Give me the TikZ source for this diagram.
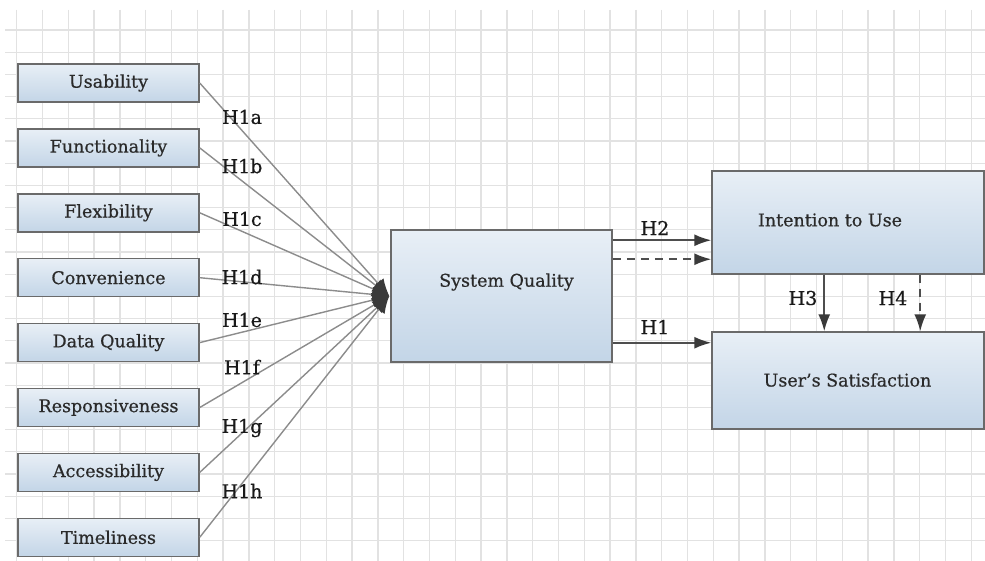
\documentclass[tikz,border=0pt]{standalone}
\usepackage{fontspec}
\setmainfont{DejaVu Serif}[FakeBold=0.6]
\usetikzlibrary{arrows.meta,calc}
\definecolor{gridc}{HTML}{E2E2E2}
\definecolor{boxborder}{HTML}{6A6A6A}
\definecolor{boxtop}{HTML}{E8EFF6}
\definecolor{boxbot}{HTML}{C3D5E7}
\definecolor{txt}{HTML}{2A2A2A}
\definecolor{lineg}{HTML}{8C8C8C}
\definecolor{arrg}{HTML}{3A3A3A}
\tikzset{
  gridline/.style={draw=gridc, line width=1.3pt},
  smallbox/.style={draw=boxborder, line width=1.5pt, top color=boxtop, bottom color=boxbot,
    minimum width=181pt, minimum height=38pt, inner sep=0pt, text=txt, font=\fontsize{17.5}{21}\selectfont},
  bigbox/.style={draw=boxborder, line width=1.5pt, top color=boxtop, bottom color=boxbot,
    inner sep=0pt},
  boxtext/.style={text=txt, font=\fontsize{17.5}{21}\selectfont, inner sep=0pt},
  hlabel/.style={text=black!90, font=\fontsize{19}{23}\selectfont, inner sep=0pt},
  feed/.style={draw=lineg, line width=1.4pt, -{Latex[length=17pt,width=15pt,color=arrg]}},
  rarr/.style={draw=arrg!90, line width=1.7pt, -{Latex[length=17pt,width=12pt,color=arrg]}},
  rdash/.style={rarr, dash pattern=on 8pt off 6pt},
}
\begin{document}
\begin{tikzpicture}[x=1pt,y=-1pt]
\useasboundingbox (0,0) rectangle (985,561);
\fill[white] (0,0) rectangle (985,561);
% grid
\foreach \k in {0,...,37} \draw[gridline] ({16.7+25.8*\k},10) -- ({16.7+25.8*\k},561);
\foreach \k in {0,...,23} \draw[gridline] (5,{30+22.2*\k}) -- (985,{30+22.2*\k});

% left boxes
\node[smallbox] (us)  at (108.5,83)    {Usability};
\node[smallbox] (fu)  at (108.5,147.9) {Functionality};
\node[smallbox] (fl)  at (108.5,212.8) {Flexibility};
\node[smallbox] (co)  at (108.5,277.7) {Convenience};
\node[smallbox] (dq)  at (108.5,342.6) {Data Quality};
\node[smallbox] (re)  at (108.5,407.5) {Responsiveness};
\node[smallbox] (ac)  at (108.5,472.4) {Accessibility};
\node[smallbox] (ti)  at (108.5,537.3) {Timeliness};

% big boxes
\node[bigbox, minimum width=221pt, minimum height=132pt] (sq)  at (501.5,296) {};
\node[boxtext] (sqt) at (506.5,282) {System Quality};
\node[bigbox, minimum width=272pt, minimum height=103pt] (itu) at (848,222.5) {};
\node[boxtext] (itut) at (830,220) {Intention to Use};
\node[bigbox, minimum width=272pt, minimum height=97pt] (usat) at (848,380.5) {};
\node[boxtext] (usatt) at (847.5,380) {User's Satisfaction};

% hub
\coordinate (hub) at ([xshift=-1pt]sq.west);
\foreach \n in {us,fu,fl,co,dq,re,ac,ti} \draw[feed] (\n.east) -- (hub);

% H1x labels
\node[hlabel] (l1a) at (242,117) {H1a};
\node[hlabel] (l1b) at (242,166) {H1b};
\node[hlabel] (l1c) at (242,219) {H1c};
\node[hlabel] (l1d) at (242,277) {H1d};
\node[hlabel] (l1e) at (242,320) {H1e};
\node[hlabel] (l1f) at (242,367) {H1f};
\node[hlabel] (l1g) at (242,428) {H1g};
\node[hlabel] (l1h) at (242,491) {H1h};

% right arrows
\draw[rarr]  ([yshift=-11pt]sq.north east) -- ([yshift=-11pt]sq.north east -| itu.west);
\draw[rdash] ([yshift=-30pt]sq.north east) -- ([yshift=-30pt]sq.north east -| itu.west);
\draw[rarr]  ([yshift=20pt]sq.south east) -- ([yshift=20pt]sq.south east -| usat.west);
\draw[rarr]  ([xshift=113pt]itu.south west) -- ([xshift=113pt]itu.south west |- usat.north);
\draw[rdash] ([xshift=209pt]itu.south west) -- ([xshift=209pt]itu.south west |- usat.north);

\node[hlabel] (lh2) at (655,228) {H2};
\node[hlabel] (lh1) at (655,327) {H1};
\node[hlabel] (lh3) at (803,298) {H3};
\node[hlabel] (lh4) at (893,298) {H4};
\end{tikzpicture}
\end{document}
